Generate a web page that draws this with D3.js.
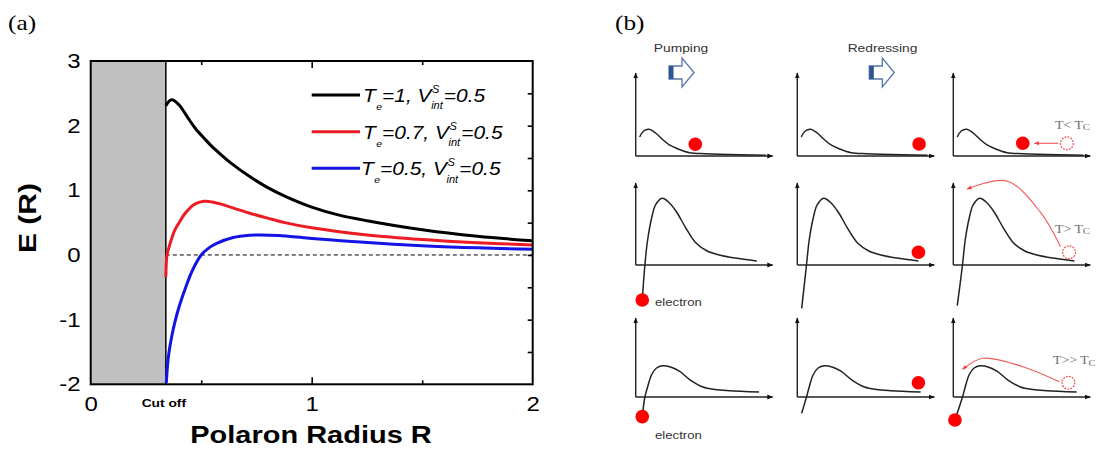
<!DOCTYPE html>
<html>
<head>
<meta charset="utf-8">
<script src="https://cdn.jsdelivr.net/npm/d3@7"></script>
<style>
  html, body { margin: 0; padding: 0; background: #fff; }
  svg { display: block; }
  text { font-family: "Liberation Sans", Arial, Helvetica, sans-serif; }
</style>
</head>
<body>
<svg id="fig" width="1102" height="454"></svg>
<script>
// ---------- (a) polaron energy E(R) vs radius ----------
const cutoffR = 0.34;
const xTickVals = [0, 1, 2];
const yTickVals = [-2, -1, 0, 1, 2, 3];

const rBlack = [0.34, 0.366, 0.40, 0.44, 0.473, 0.52, 0.554, 0.6, 0.635, 0.716, 0.797, 0.878, 1.0, 1.12, 1.25, 1.5, 1.75, 2.0];
const eBlack = [2.31, 2.40, 2.32, 2.12, 1.96, 1.78, 1.66, 1.52, 1.42, 1.22, 1.05, 0.91, 0.74, 0.62, 0.53, 0.39, 0.29, 0.22];

const rRed = [0.34, 0.345, 0.351, 0.365, 0.38, 0.40, 0.424, 0.45, 0.473, 0.513, 0.55, 0.586, 0.65, 0.716, 0.8, 0.878, 1.0, 1.25, 1.5, 1.75, 2.0];
const eRed = [-0.34, 0.0, 0.08, 0.24, 0.38, 0.50, 0.63, 0.73, 0.79, 0.83, 0.82, 0.79, 0.72, 0.65, 0.57, 0.50, 0.42, 0.31, 0.24, 0.19, 0.155];

const rBlue = [0.342, 0.35, 0.36, 0.38, 0.40, 0.43, 0.46, 0.50, 0.535, 0.57, 0.645, 0.72, 0.77, 0.85, 0.99, 1.22, 1.52, 1.75, 2.0];
const eBlue = [-1.98, -1.62, -1.38, -1.05, -0.80, -0.50, -0.24, 0.0, 0.11, 0.18, 0.27, 0.305, 0.31, 0.30, 0.26, 0.20, 0.14, 0.11, 0.09];

const seriesTe = ["1", "0.7", "0.5"];
const seriesV = "0.5";
const seriesColors = ["#000000", "#ec1c24", "#1414e6"];

// ---------- (b) schematic energy landscapes (3 x 3 panels) ----------
// profiles in panel units: x 0..100 along the axis, y 0..100 up the axis
const profileLow  = [[2.9, 22.9], [5.8, 30.1], [9.9, 32.2], [14.5, 27.7], [20, 19.3], [24.6, 13.3], [29.7, 9.3], [39.3, 4], [50.7, 2.7], [61.1, 2], [95, 0.8]];
const profileHigh = [[6.7, 0], [8.7, 30.5], [11.6, 57], [14.5, 73.2], [19.3, 81.3], [23.9, 76.8], [29.7, 65], [36.2, 46.3], [44.2, 26.5], [52.2, 17.1], [61.1, 12.2], [72.5, 8.5], [88.4, 4.9]];
const profileMid  = [[6.7, 0], [8.7, 12.7], [11.6, 28.2], [15.2, 36.7], [19.6, 39.6], [25.4, 38], [32.1, 32.4], [39.9, 21.5], [49, 12.7], [58, 9.5], [68.3, 8], [90, 6.3]];
const rowProfiles = [profileLow, profileHigh, profileMid];
// where each curve's negative branch starts (row, column, x, y)
const tailStarts = [[1, 0, 4.8, -42.7], [1, 1, 3.2, -52.8], [1, 2, 2.9, -49.6],
                    [2, 0, 4.8, -24.9], [2, 1, 3.2, -20.6], [2, 2, 1.2, -29.1]];
// electrons (row, column, x, y)
const electronDots = [[0, 0, 43.5, 14.1], [0, 1, 88.9, 14.5], [0, 2, 50.7, 15.3],
                      [1, 0, 4.8, -42.7], [1, 1, 88.4, 15.5],
                      [2, 0, 4.8, -24.9], [2, 1, 88.4, 18.1], [2, 2, 1.2, -29.1]];
const emptyDots = [[0, 2, 82.9, 15.3], [1, 2, 84.5, 15.5], [2, 2, 84, 18.1]];
// hop paths in the last column (row, points)
const hopPaths = [[0, [[76.6, 15.3], [59.2, 15.3]]],
                  [1, [[78.3, 22.3], [63.3, 65], [39.1, 102.4], [10.1, 92.7]]],
                  [2, [[77.3, 19.4], [50.7, 38.4], [21.7, 49], [6.8, 35.1]]]];
const tempLabels = [["T< T", "C"], ["T> T", "C"], ["T>> T", "C"]];
const stepLabels = ["Pumping", "Redressing"];
const electronLabelRows = [1, 2];

const svg = d3.select("#fig");
const SX = 1.2; // horizontal glyph stretch used for all lettering

function label(parent, x, y, str, opts = {}) {
  const t = parent.append("text")
    .attr("transform", `translate(${x},${y})${opts.rotate ? ` rotate(${opts.rotate})` : ""} scale(${opts.sx || SX},1)`)
    .attr("text-anchor", opts.anchor || "start")
    .style("font-size", (opts.size || 12) + "px")
    .style("fill", opts.fill || "#000");
  if (opts.weight) t.style("font-weight", opts.weight);
  if (opts.family) t.style("font-family", opts.family);
  if (opts.dy) t.attr("dy", opts.dy);
  t.text(str);
  return t;
}

// ================= Panel (a) =================
const x = d3.scaleLinear().domain([0, 2]).range([90.7, 532.7]);
const y = d3.scaleLinear().domain([-2, 3]).range([384.3, 61]);
const A = svg.append("g");

label(A, 8, 30, "(a)", { size: 22, family: "'Liberation Serif', 'Times New Roman', serif", sx: 1.15 });

// excluded region below the cut-off radius
A.append("rect")
  .attr("x", x(0)).attr("y", y(3))
  .attr("width", x(cutoffR) - x(0)).attr("height", y(-2) - y(3))
  .attr("fill", "#c0c0c0");

const minorX = [0.5, 1.5];
const rightTicks = d3.range(-1.5, 3, 0.5);

function tickAxis(axis, tr, vals, size) {
  const g = A.append("g").attr("transform", tr)
    .call(axis.tickValues(vals).tickSize(size).tickFormat(""));
  g.select(".domain").remove();
  g.selectAll("line").attr("stroke", "#000").attr("stroke-width", 1.6);
  return g;
}
tickAxis(d3.axisBottom(x), `translate(0,${y(-2)})`, [1], -7);
tickAxis(d3.axisBottom(x), `translate(0,${y(-2)})`, minorX, -4);
tickAxis(d3.axisTop(x), `translate(0,${y(3)})`, [1], -7);
tickAxis(d3.axisTop(x), `translate(0,${y(3)})`, minorX, -4);
tickAxis(d3.axisRight(y), `translate(${x(2)},0)`, rightTicks, -5);

// tick labels
const gxl = A.append("g").attr("transform", `translate(0,${y(-2)})`)
  .call(d3.axisBottom(x).tickValues(xTickVals).tickSize(0).tickPadding(12.5).tickFormat(d => String(d)));
gxl.select(".domain").remove();
gxl.selectAll("text").style("font-size", "20px").style("font-family", "'Liberation Sans', Arial, sans-serif")
  .attr("fill", "#000").attr("transform", `scale(${SX},1)`);

const gyl = A.append("g").attr("transform", `translate(${x(0)},0)`)
  .call(d3.axisLeft(y).tickValues(yTickVals).tickSize(0).tickPadding(8.5).tickFormat(d => String(d)));
gyl.select(".domain").remove();
gyl.selectAll("text").style("font-size", "20px").style("font-family", "'Liberation Sans', Arial, sans-serif")
  .attr("fill", "#000").attr("transform", `scale(${SX},1)`);

// cut-off boundary
A.append("line")
  .attr("x1", x(cutoffR)).attr("x2", x(cutoffR))
  .attr("y1", y(3)).attr("y2", y(-2))
  .attr("stroke", "#000").attr("stroke-width", 1.5);

// zero reference
A.append("line")
  .attr("x1", x(cutoffR)).attr("x2", x(2))
  .attr("y1", y(0)).attr("y2", y(0))
  .attr("stroke", "#000").attr("stroke-width", 1).attr("stroke-dasharray", "4,3");

// energy curves
const lineGen = d3.line().x(d => x(d[0])).y(d => y(d[1])).curve(d3.curveCatmullRom.alpha(0.5));
const series = [d3.zip(rBlack, eBlack), d3.zip(rRed, eRed), d3.zip(rBlue, eBlue)];
A.append("clipPath").attr("id", "plotClip").append("rect")
  .attr("x", x(0)).attr("y", y(3)).attr("width", x(2) - x(0)).attr("height", y(-2) - y(3));
series.forEach((s, i) => {
  A.append("path").datum(s)
    .attr("clip-path", "url(#plotClip)")
    .attr("d", lineGen)
    .attr("fill", "none")
    .attr("stroke", seriesColors[i])
    .attr("stroke-width", 3)
    .attr("stroke-linejoin", "round");
});

// frame
A.append("rect")
  .attr("x", x(0)).attr("y", y(3))
  .attr("width", x(2) - x(0)).attr("height", y(-2) - y(3))
  .attr("fill", "none").attr("stroke", "#000").attr("stroke-width", 2);

label(A, x(cutoffR) - 2, 406.5, "Cut off", { size: 11.5, weight: "bold", anchor: "middle" });
label(A, 311, 443, "Polaron Radius R", { size: 23, weight: "bold", anchor: "middle", sx: 1.26 });
label(A, 27, 218, "E (R)", { size: 24, weight: "bold", anchor: "middle", rotate: -90, sx: 1.25, dy: "0.36em" });

// legend
const legendRows = [95, 131.7, 168.3];
const legendTextX = [363, 363, 361];
seriesTe.forEach((te, i) => {
  A.append("line")
    .attr("x1", 311.7).attr("x2", 360)
    .attr("y1", legendRows[i]).attr("y2", legendRows[i])
    .attr("stroke", seriesColors[i]).attr("stroke-width", 3);
  const t = A.append("text")
    .attr("transform", `translate(${legendTextX[i]},${legendRows[i] + 6.8}) scale(1.1,1)`)
    .style("font-style", "italic").style("font-size", "19px").attr("fill", "#000");
  t.append("tspan").text("T");
  t.append("tspan").attr("dx", 0.5).attr("dy", 8).style("font-size", "9.5px").text("e");
  t.append("tspan").attr("dx", 0).attr("dy", -8).text(`=${te}, V`);
  t.append("tspan").attr("dx", 0.5).attr("dy", -9).style("font-size", "10px").text("S");
  t.append("tspan").attr("dx", -7.5).attr("dy", 16.5).style("font-size", "10px").text("int");
  t.append("tspan").attr("dx", 1).attr("dy", -7.5).text(`=${seriesV}`);
});

// ================= Panel (b) =================
const B = svg.append("g");
label(B, 615, 30, "(b)", { size: 22, family: "'Liberation Serif', 'Times New Roman', serif", sx: 1.15 });

const defs = svg.append("defs");
defs.append("marker").attr("id", "axHead")
  .attr("viewBox", "0 0 10 10").attr("refX", 9).attr("refY", 5)
  .attr("markerUnits", "userSpaceOnUse").attr("markerWidth", 6).attr("markerHeight", 6)
  .attr("orient", "auto")
  .append("path").attr("d", "M0,1 L10,5 L0,9 Z").attr("fill", "#111");
defs.append("marker").attr("id", "hopHead")
  .attr("viewBox", "0 0 10 10").attr("refX", 9).attr("refY", 5)
  .attr("markerUnits", "userSpaceOnUse").attr("markerWidth", 5).attr("markerHeight", 5)
  .attr("orient", "auto")
  .append("path").attr("d", "M0,1 L10,5 L0,9 Z").attr("fill", "#f04040");

const colX = [635.7, 797.3, 953.3];
const rowAxisY = [156, 265, 397];
const rowTopY = [73, 183, 318];
const panelW = 137;

function panelScales(r, c) {
  return {
    px: d3.scaleLinear().domain([0, 100]).range([colX[c], colX[c] + panelW]),
    py: d3.scaleLinear().domain([0, 100]).range([rowAxisY[r], rowTopY[r]])
  };
}

for (let r = 0; r < 3; r++) {
  for (let c = 0; c < 3; c++) {
    const { px, py } = panelScales(r, c);
    const g = B.append("g");
    // axes with arrow heads
    g.append("line").attr("x1", px(0)).attr("x2", px(0)).attr("y1", py(0)).attr("y2", py(100))
      .attr("stroke", "#222").attr("stroke-width", 1.4).attr("marker-end", "url(#axHead)");
    g.append("line").attr("x1", px(0)).attr("x2", px(100)).attr("y1", py(0)).attr("y2", py(0))
      .attr("stroke", "#222").attr("stroke-width", 1.4).attr("marker-end", "url(#axHead)");
    // energy profile
    const tail = tailStarts.find(t => t[0] === r && t[1] === c);
    const pts = tail ? [[tail[2], tail[3]], ...rowProfiles[r]] : rowProfiles[r];
    g.append("path").datum(pts)
      .attr("d", d3.line().x(d => px(d[0])).y(d => py(d[1])).curve(d3.curveCatmullRom.alpha(0.5)))
      .attr("fill", "none").attr("stroke", "#222").attr("stroke-width", 1.5);
  }
}

// hop arrows (last column)
hopPaths.forEach(([r, pts]) => {
  const { px, py } = panelScales(r, 2);
  B.append("path").datum(pts)
    .attr("d", d3.line().x(d => px(d[0])).y(d => py(d[1])).curve(d3.curveCatmullRom.alpha(0.5)))
    .attr("fill", "none").attr("stroke", "#f25a5a").attr("stroke-width", 1.1)
    .attr("marker-end", "url(#hopHead)");
});

// vacated positions
emptyDots.forEach(([r, c, ex, ey]) => {
  const { px, py } = panelScales(r, c);
  B.append("circle").attr("cx", px(ex)).attr("cy", py(ey)).attr("r", 6.4)
    .attr("fill", "#fff").attr("stroke", "#f05050").attr("stroke-width", 1.3)
    .attr("stroke-dasharray", "1.8,1.2");
});

// electrons
electronDots.forEach(([r, c, ex, ey]) => {
  const { px, py } = panelScales(r, c);
  B.append("circle").attr("cx", px(ex)).attr("cy", py(ey)).attr("r", 6.8).attr("fill", "#ff0000");
});

// temperature labels
const tempY = [128.5, 232.5, 364];
const tempX = [1055, 1055, 1053];
tempLabels.forEach((lb, i) => {
  const t = B.append("text")
    .attr("transform", `translate(${tempX[i]},${tempY[i]}) scale(1.15,1)`)
    .style("font-family", "'Liberation Serif', 'Times New Roman', serif")
    .style("font-size", "12px").attr("fill", "#6e6e6e");
  t.append("tspan").text(lb[0]);
  t.append("tspan").attr("dy", 1.5).style("font-size", "9px").text(lb[1]);
});

// "electron" captions
const electronCaptionY = [305.5, 439];
electronLabelRows.forEach((r, i) => {
  label(B, 655, electronCaptionY[i], "electron", { size: 11, fill: "#333" });
});

// process steps with block arrows
const stepX = [681, 882.5];
const arrowX = [669, 869.3];
stepLabels.forEach((s, i) => {
  label(B, stepX[i], 51.5, s, { size: 11.5, anchor: "middle", fill: "#333" });
  const x0 = arrowX[i], yc = 72.5;
  const shape = [[0, -6.5], [13, -6.5], [13, -14.5], [25, 0], [13, 14.5], [13, 6.5], [0, 6.5]];
  B.append("path")
    .attr("d", d3.line()(shape.map(p => [x0 + p[0], yc + p[1]])) + "Z")
    .attr("fill", "#fff").attr("stroke", "#5577aa").attr("stroke-width", 1.3);
  B.append("rect").attr("x", x0).attr("y", yc - 6.5).attr("width", 4.5).attr("height", 13)
    .attr("fill", "#2f5590");
});
</script>
</body>
</html>
